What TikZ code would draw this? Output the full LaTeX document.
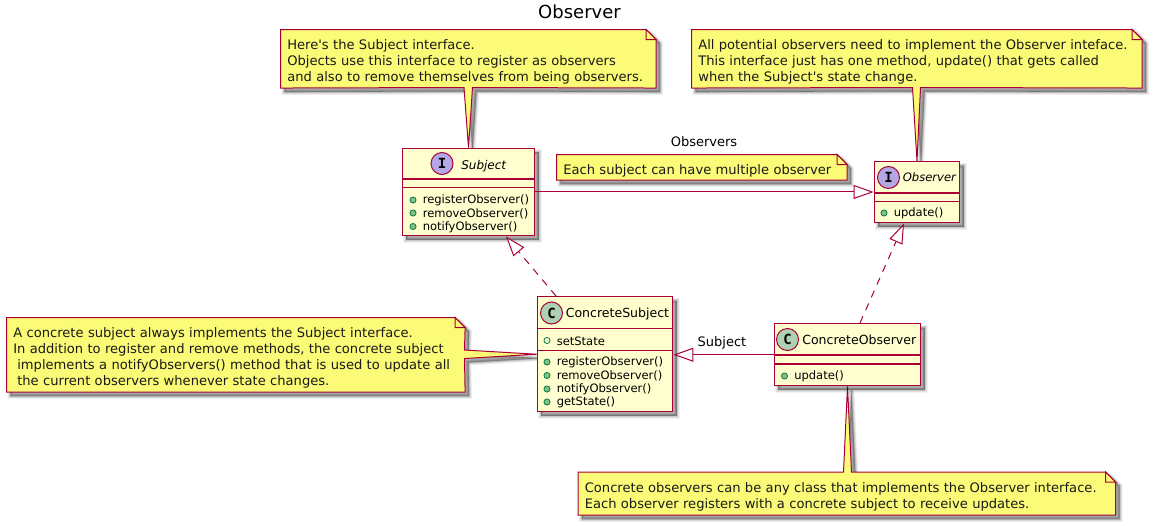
\documentclass[tikz,border=0pt]{standalone}
\usepackage{fontspec}
\setmainfont{DejaVu Sans}[Ligatures=TeXOff]
\newfontfamily\iconfont{DejaVu Sans Mono}
\usetikzlibrary{arrows.meta,backgrounds,calc}
\definecolor{umlred}{HTML}{A80036}
\definecolor{classbg}{HTML}{FEFECE}
\definecolor{notebg}{HTML}{FBFB77}
\definecolor{iconI}{HTML}{B4A7E5}
\definecolor{iconC}{HTML}{ADD1B2}
\definecolor{bulletfill}{HTML}{84BE84}
\definecolor{bulletline}{HTML}{038048}
\tikzset{
  softshadow/.style={
    preaction={draw=black,fill=black,opacity=.05,line width=4.4pt,transform canvas={xshift=3pt,yshift=-3pt}},
    preaction={draw=black,fill=black,opacity=.08,line width=3.2pt,transform canvas={xshift=3pt,yshift=-3pt}},
    preaction={draw=black,fill=black,opacity=.10,line width=2pt,transform canvas={xshift=3pt,yshift=-3pt}},
    preaction={draw=black,fill=black,opacity=.13,line width=.8pt,transform canvas={xshift=3pt,yshift=-3pt}}},
  classbox/.style={rectangle,draw=umlred,fill=classbg,line width=1.1pt,anchor=north west,inner sep=0pt,softshadow},
  classdivider/.style={draw=umlred,line width=.9pt},
  notebox/.style={rectangle,anchor=north west,align=left,inner ysep=0pt,inner xsep=4.9pt,text=black!90,
    font=\fontsize{9.82}{12}\selectfont,execute at begin node={\rule{0pt}{12.6pt}}},
  noteshape/.style={draw=umlred,fill=notebg,line width=.75pt,line join=miter,softshadow},
  notefold/.style={draw=umlred,fill=notebg,line width=.75pt},
  icon/.style={circle,draw=umlred,line width=.75pt,minimum size=16.5pt,inner sep=0pt,
    font=\fontsize{10.5}{12}\bfseries\iconfont},
  classname/.style={anchor=west,inner sep=0pt,text=black},
  membertext/.style={anchor=west,inner sep=0pt,font=\fontsize{8.65}{10}\selectfont,text=black},
  bullet/.style={draw=bulletline,fill=bulletfill,line width=.6pt},
  openbullet/.style={draw=bulletline,line width=.6pt},
  linklabel/.style={anchor=center,inner sep=0pt,font=\fontsize{9.75}{12}\selectfont,text=black},
  link/.style={draw=umlred,line width=.75pt},
  hollowtip/.style={-{Triangle[open,length=15pt,width=10.5pt,fill=white]}},
  implements/.style={link,dash pattern=on 5.5pt off 5pt},
}
% \px turns a pixel count into points
\newcommand{\px}[1]{#1*0.75pt}
\newcommand{\classdiv}[2]{\draw[classdivider] ([yshift=-\px{#2}]#1.north west) -- ([yshift=-\px{#2}]#1.north east);}
\newcommand{\member}[4]{\fill[bullet] (#2-9.5,#3+.5) circle (2.3pt);\node[membertext] (#1) at (#2,#3+1) {#4};}
\newcommand{\openmember}[4]{\draw[openbullet] (#2-9.5,#3+.5) circle (2.3pt);\node[membertext] (#1) at (#2,#3+1) {#4};}
\newcommand{\foldat}[1]{\path[notefold] ($(#1.north east)+(-7.5pt,0)$) -- ($(#1.north east)+(-7.5pt,-7.5pt)$) -- ($(#1.north east)+(0,-7.5pt)$) -- cycle;}
\begin{document}
\begin{tikzpicture}[x=0.75pt,y=-0.75pt]
\useasboundingbox (0,0) rectangle (1162,525);

\node[anchor=center,inner sep=0pt,font=\fontsize{13.5}{15}\selectfont] (title) at (579.5,12) {Observer};

% classes
\node[classbox,minimum width=\px{132.5},minimum height=\px{87.5}] (subject) at (401.5,147.5) {};
\classdiv{subject}{31.5}\classdiv{subject}{40}
\node[icon,fill=iconI] (subjecticon) at (442,163.5) {I};
\node[classname,font=\fontsize{9}{11}\itshape] (subjectname) at (461,166) {Subject};
\member{sm1}{422.5}{199.5}{registerObserver()}
\member{sm2}{422.5}{212.5}{removeObserver()}
\member{sm3}{422.5}{226}{notifyObserver()}

\node[classbox,minimum width=\px{85.5},minimum height=\px{61}] (observer) at (873.5,161) {};
\classdiv{observer}{32}\classdiv{observer}{40.5}
\node[icon,fill=iconI] (observericon) at (888.5,177.5) {I};
\node[classname,font=\fontsize{8.7}{11}\itshape] (observername) at (902.5,177.5) {Observer};
\member{om1}{893.5}{212.5}{update()}

\node[classbox,minimum width=\px{135.5},minimum height=\px{115}] (csubject) at (536.5,296) {};
\classdiv{csubject}{32.5}\classdiv{csubject}{54.5}
\node[icon,fill=iconC] (csubjecticon) at (551.5,313) {C};
\node[classname,font=\fontsize{9.4}{11}\selectfont] (csubjectname) at (565.5,314) {ConcreteSubject};
\openmember{cs0}{556.5}{340}{setState}
\member{cs1}{556.5}{361.5}{registerObserver()}
\member{cs2}{556.5}{375}{removeObserver()}
\member{cs3}{556.5}{388.5}{notifyObserver()}
\member{cs4}{556.5}{401.5}{getState()}

\node[classbox,minimum width=\px{146.5},minimum height=\px{62}] (cobserver) at (773.5,323) {};
\classdiv{cobserver}{32}\classdiv{cobserver}{41}
\node[icon,fill=iconC] (cobservericon) at (787.5,339.5) {C};
\node[classname,font=\fontsize{9.4}{11}\selectfont] (cobservername) at (802,340) {ConcreteObserver};
\member{co1}{794}{375.5}{update()}

% note texts (their outlines are drawn behind them)
\node[notebox,minimum width=\px{375},text width=271.5pt,minimum height=\px{58}] (note1) at (280.5,29.5)
  {Here's the Subject interface.\\Objects use this interface to register as observers\\and also to remove themselves from being observers.};
\node[notebox,minimum width=\px{450},text width=327.75pt,minimum height=\px{58}] (note2) at (691.5,29.5)
  {All potential observers need to implement the Observer inteface.\\This interface just has one method, update() that gets called\\when the Subject's state change.};
\node[notebox,minimum width=\px{290},text width=207.75pt,minimum height=\px{25}] (note3) at (556.5,154.5)
  {Each subject can have multiple observer};
\node[notebox,minimum width=\px{458},text width=333.75pt,minimum height=\px{74}] (note4) at (6.5,317.5)
  {A concrete subject always implements the Subject interface.\\In addition to register and remove methods, the concrete subject\\\hspace*{3pt}implements a notifyObservers() method that is used to update all\\\hspace*{3pt}the current observers whenever state changes.};
\node[notebox,minimum width=\px{537},text width=393pt,minimum height=\px{42.5}] (note5) at (578,472)
  {Concrete observers can be any class that implements the Observer interface.\\Each observer registers with a concrete subject to receive updates.};

\begin{scope}[on background layer]
  % top-hanging wedges end on the class below
  \path[noteshape] (note1.north west) -- ($(note1.north east)+(-7.5pt,0)$) -- ($(note1.north east)+(0,-7.5pt)$) -- (note1.south east)
    -- (472.5,87.5) -- (subject.north) -- (464,87.5) -- (note1.south west) -- cycle;
  \foldat{note1}
  \path[noteshape] (note2.north west) -- ($(note2.north east)+(-7.5pt,0)$) -- ($(note2.north east)+(0,-7.5pt)$) -- (note2.south east)
    -- (920.5,87.5) -- (observer.north) -- (912.5,87.5) -- (note2.south west) -- cycle;
  \foldat{note2}
  \path[noteshape] (note3.north west) -- ($(note3.north east)+(-7.5pt,0)$) -- ($(note3.north east)+(0,-7.5pt)$) -- (note3.south east)
    -- (note3.south west) -- cycle;
  \foldat{note3}
  \path[noteshape] (note4.north west) -- ($(note4.north east)+(-7.5pt,0)$) -- ($(note4.north east)+(0,-7.5pt)$)
    -- (464.5,350) -- (csubject.west) -- (464.5,358.5) -- (note4.south east) -- (note4.south west) -- cycle;
  \foldat{note4}
  \path[noteshape] (note5.north west) -- (843.5,472) -- (cobserver.south) -- (851.5,472)
    -- ($(note5.north east)+(-7.5pt,0)$) -- ($(note5.north east)+(0,-7.5pt)$) -- (note5.south east) -- (note5.south west) -- cycle;
  \foldat{note5}
\end{scope}

% relations
\draw[link,hollowtip] (subject.east) -- (subject.east -| observer.west);
\node[linklabel] (observerslabel) at (704,141.5) {Observers};
\draw[link,hollowtip] (cobserver.west) -- (cobserver.west -| csubject.east);
\node[linklabel] (subjectlabel) at (722,343) {Subject};
\draw[implements,hollowtip] ([xshift=-\px{49}]csubject.north) -- ([xshift=\px{37.5}]subject.south);
\draw[implements,hollowtip] ([xshift=\px{12.5}]cobserver.north) -- ([xshift=-\px{13}]observer.south);
\end{tikzpicture}
\end{document}
